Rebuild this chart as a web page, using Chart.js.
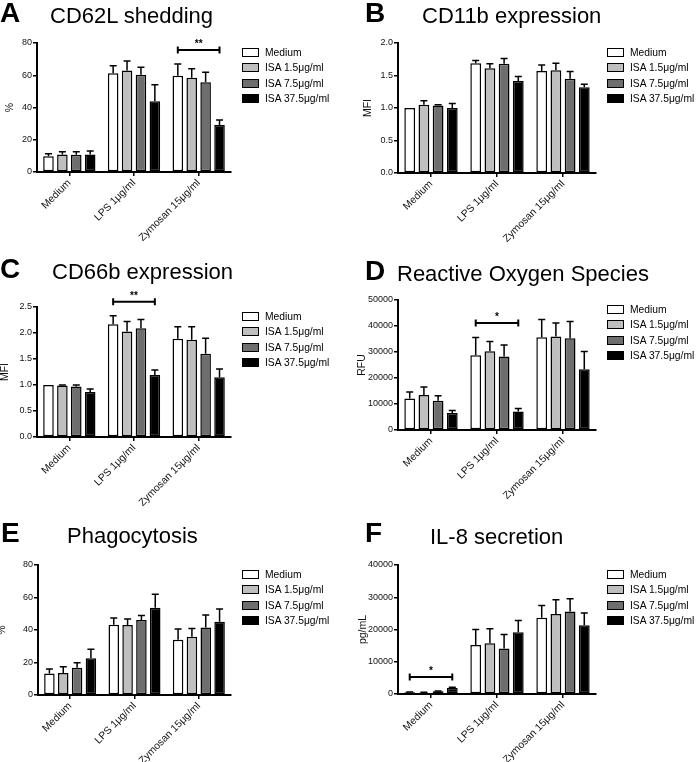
<!DOCTYPE html>
<html>
<head>
<meta charset="utf-8">
<script src="https://cdn.jsdelivr.net/npm/chart.js@4.4.1/dist/chart.umd.min.js"></script>
<style>
  body { margin: 0; background: #fff; font-family: "Liberation Sans", Arial, sans-serif; }
  #page { position: relative; width: 696px; height: 762px; overflow: hidden; }
  .panel { position: absolute; width: 348px; height: 254px; }
  .panel canvas { position: absolute; left: 0; top: 0; }
  .letter { position: absolute; font-weight: bold; font-size: 28px; line-height: 28px; color: #000; }
  .title { position: absolute; font-size: 22px; line-height: 22px; color: #000; white-space: nowrap; }
  .legend-row { position: absolute; font-size: 10.3px; line-height: 11px; color: #000; white-space: nowrap; }
  .legend-box { position: absolute; box-sizing: border-box; width: 17px; height: 9px; border: 1.5px solid #000; }
</style>
</head>
<body>
<div id="page"></div>
<script>
// ===== DATA =====
const categories = ["Medium", "LPS 1μg/ml", "Zymosan 15μg/ml"];
const seriesLabels = ["Medium", "ISA 1.5μg/ml", "ISA 7.5μg/ml", "ISA 37.5μg/ml"];

// one row per series, one value per category
const cd62lMean = [[9.8, 61.2, 59.7], [10.8, 63.0, 58.5], [10.7, 60.3, 55.6], [10.8, 43.8, 29.1]];
const cd62lErr  = [[1.5, 4.7, 7.3], [1.7, 5.8, 5.5], [1.8, 4.6, 6.2], [2.3, 10.3, 3.1]];

const cd11bMean = [[1.0, 1.69, 1.57], [1.05, 1.61, 1.58], [1.04, 1.68, 1.45], [1.0, 1.415, 1.32]];
const cd11bErr  = [[0, 0.04, 0.09], [0.06, 0.07, 0.11], [0.01, 0.08, 0.11], [0.07, 0.07, 0.045]];

const cd66bMean = [[1.0, 2.17, 1.89], [0.99, 2.03, 1.87], [0.97, 2.09, 1.60], [0.865, 1.19, 1.15]];
const cd66bErr  = [[0, 0.16, 0.23], [0.01, 0.19, 0.25], [0.03, 0.17, 0.30], [0.06, 0.10, 0.16]];

const rosMean = [[12150, 28770, 35680], [13430, 30300, 35930], [11250, 28260, 35300], [6520, 7160, 23400]];
const rosErr  = [[2430, 6780, 6780], [3070, 3720, 5250], [1920, 4480, 6390], [1020, 1150, 6780]];

const phagoMean = [[13.3, 43.3, 34.0], [13.5, 43.1, 35.9], [16.8, 46.2, 41.6], [22.6, 53.7, 45.1]];
const phagoErr  = [[2.7, 4.1, 6.6], [3.9, 3.7, 5.1], [3.1, 2.8, 7.6], [5.5, 8.3, 7.8]];

const il8Mean = [[520, 15230, 23630], [410, 15750, 24770], [830, 14090, 25600], [1870, 19170, 21350]];
const il8Err  = [[100, 4770, 3830], [100, 4450, 4450], [120, 4360, 3930], [250, 3630, 3730]];

// y axis ranges: [max, step, decimals]
const cd62lTicks = [80, 20, 0];
const cd11bTicks = [2.0, 0.5, 1];
const cd66bTicks = [2.5, 0.5, 1];
const rosTicks = [50000, 10000, 0];
const phagoTicks = [80, 20, 0];
const il8Ticks = [40000, 10000, 0];

// significance brackets: [category index, y value, label]
const cd62lSig = [2, 75.7, "**"];
const cd66bSig = [1, 2.6, "**"];
const rosSig = [1, 41150, "*"];
const il8Sig = [0, 5270, "*"];

// ===== STYLE =====
const barColors = ["#ffffff", "#bfbfbf", "#6e6e6e", "#000000"];
const FONT = '"Liberation Sans", Arial, sans-serif';
Chart.defaults.font.family = FONT;
Chart.defaults.color = "#111";

// ===== PANEL LAYOUT =====
const panels = [
  { x: 0, y: 0, letter: "A", title: "CD62L shedding", yTitle: "%", mean: cd62lMean, err: cd62lErr, ticks: cd62lTicks, sig: cd62lSig,
    area: { left: 37, top: 43, right: 231, bottom: 172 }, letterX: 0, letterBase: 23, titleX: 50, titleBase: 23.5, legX: 242, legY: 48, yPad: 3.5 },
  { x: 348, y: 0, letter: "B", title: "CD11b expression", yTitle: "MFI", mean: cd11bMean, err: cd11bErr, ticks: cd11bTicks, sig: null,
    area: { left: 50, top: 43, right: 248, bottom: 173 }, letterX: 17, letterBase: 23, titleX: 74, titleBase: 24, legX: 259, legY: 48, yPad: 14 },
  { x: 0, y: 254, letter: "C", title: "CD66b expression", yTitle: "MFI", mean: cd66bMean, err: cd66bErr, ticks: cd66bTicks, sig: cd66bSig,
    area: { left: 37, top: 53, right: 231, bottom: 183 }, letterX: 0, letterBase: 25, titleX: 52, titleBase: 26, legX: 242, legY: 58, yPad: -1.5 },
  { x: 348, y: 254, letter: "D", title: "Reactive Oxygen Species", yTitle: "RFU", mean: rosMean, err: rosErr, ticks: rosTicks, sig: rosSig,
    area: { left: 50, top: 46, right: 248, bottom: 176 }, letterX: 17, letterBase: 26.5, titleX: 49, titleBase: 28, legX: 259, legY: 51, yPad: 7.5 },
  { x: 0, y: 508, letter: "E", title: "Phagocytosis", yTitle: "%", mean: phagoMean, err: phagoErr, ticks: phagoTicks, sig: null,
    area: { left: 38, top: 57, right: 231, bottom: 187 }, letterX: 1, letterBase: 35, titleX: 67, titleBase: 36, legX: 242, legY: 62, yPad: -4 },
  { x: 348, y: 508, letter: "F", title: "IL-8 secretion", yTitle: "pg/mL", mean: il8Mean, err: il8Err, ticks: il8Ticks, sig: il8Sig,
    area: { left: 50, top: 57, right: 248, bottom: 186 }, letterX: 17, letterBase: 35, titleX: 82, titleBase: 36.5, legX: 259, legY: 62, yPad: 8.5 },
];

// ===== ERROR BARS + SIGNIFICANCE PLUGIN =====
const errorBarPlugin = {
  id: "errorBars",
  afterDatasetsDraw(chart, args, opts) {
    const ctx = chart.ctx;
    const yScale = chart.scales.y;
    ctx.save();
    ctx.strokeStyle = "#000";
    ctx.lineWidth = 1.5;
    chart.data.datasets.forEach((ds, i) => {
      const meta = chart.getDatasetMeta(i);
      meta.data.forEach((bar, j) => {
        const e = ds.errors[j];
        if (!e) return;
        const yTop = yScale.getPixelForValue(ds.data[j] + e);
        ctx.beginPath();
        ctx.moveTo(bar.x, bar.y);
        ctx.lineTo(bar.x, yTop);
        ctx.moveTo(bar.x - 3.5, yTop);
        ctx.lineTo(bar.x + 3.5, yTop);
        ctx.stroke();
      });
    });

    const sig = opts.sig;
    if (sig) {
      const [cat, val, label] = sig;
      const x0 = chart.getDatasetMeta(0).data[cat].x;
      const x1 = chart.getDatasetMeta(chart.data.datasets.length - 1).data[cat].x;
      const y = yScale.getPixelForValue(val);
      ctx.lineWidth = 2;
      ctx.beginPath();
      ctx.moveTo(x0, y);
      ctx.lineTo(x1, y);
      ctx.moveTo(x0, y - 3.5);
      ctx.lineTo(x0, y + 3.5);
      ctx.moveTo(x1, y - 3.5);
      ctx.lineTo(x1, y + 3.5);
      ctx.stroke();
      ctx.fillStyle = "#000";
      ctx.font = "bold 10px " + FONT;
      ctx.textAlign = "center";
      ctx.textBaseline = "bottom";
      ctx.fillText(label, (x0 + x1) / 2, y - 1);
    }
    ctx.restore();
  },
};

// ===== BUILD PANELS =====
const page = document.getElementById("page");
const W = 348, H = 254;

panels.forEach((p) => {
  const div = document.createElement("div");
  div.className = "panel";
  div.style.left = p.x + "px";
  div.style.top = p.y + "px";
  page.appendChild(div);

  const canvas = document.createElement("canvas");
  canvas.width = W;
  canvas.height = H;
  canvas.style.width = W + "px";
  canvas.style.height = H + "px";
  div.appendChild(canvas);

  // panel letter and title as real text
  const letter = document.createElement("div");
  letter.className = "letter";
  letter.textContent = p.letter;
  letter.style.left = p.letterX + "px";
  letter.style.top = (p.letterBase - 0.8465 * 28) + "px";
  div.appendChild(letter);

  const title = document.createElement("div");
  title.className = "title";
  title.textContent = p.title;
  title.style.left = p.titleX + "px";
  title.style.top = (p.titleBase - 0.8465 * 22) + "px";
  div.appendChild(title);

  // legend
  seriesLabels.forEach((lab, i) => {
    const top = p.legY + i * 15.3;
    const box = document.createElement("div");
    box.className = "legend-box";
    box.style.left = p.legX + "px";
    box.style.top = top + "px";
    box.style.background = barColors[i];
    div.appendChild(box);
    const txt = document.createElement("div");
    txt.className = "legend-row";
    txt.textContent = lab;
    txt.style.left = (p.legX + 23) + "px";
    txt.style.top = (top - 1) + "px";
    div.appendChild(txt);
  });

  const [yMax, yStep, yDec] = p.ticks;
  const a = p.area;

  new Chart(canvas.getContext("2d"), {
    type: "bar",
    data: {
      labels: categories,
      datasets: seriesLabels.map((lab, i) => ({
        label: lab,
        data: p.mean[i],
        errors: p.err[i],
        backgroundColor: barColors[i],
        borderColor: "#000",
        borderWidth: 1.5,
        borderSkipped: false,
        categoryPercentage: 0.86,
        barPercentage: 0.76,
      })),
    },
    options: {
      responsive: false,
      animation: false,
      devicePixelRatio: 1,
      layout: { padding: { left: 0, top: a.top, right: W - a.right, bottom: 0 } },
      scales: {
        x: {
          afterFit: (scale) => { scale.height = H - a.bottom; },
          grid: { display: true, drawOnChartArea: false, drawTicks: true, tickLength: 4, offset: false, color: "#000", lineWidth: 1.5 },
          border: { display: true, color: "#000", width: 2 },
          ticks: { autoSkip: false, minRotation: 45, maxRotation: 45, padding: 1, font: { size: 10.3 }, color: "#111" },
        },
        y: {
          min: 0,
          max: yMax,
          afterFit: (scale) => { scale.width = a.left; },
          grid: { display: true, drawOnChartArea: false, drawTicks: true, tickLength: 4, color: "#000", lineWidth: 1.5 },
          border: { display: true, color: "#000", width: 2 },
          ticks: { stepSize: yStep, padding: 1, font: { size: 9 }, color: "#111", callback: (v) => Number(v).toFixed(yDec) },
          title: { display: true, text: p.yTitle, font: { size: 10.5 }, color: "#111", padding: { top: p.yPad, bottom: 0 } },
        },
      },
      plugins: {
        legend: { display: false },
        tooltip: { enabled: false },
        errorBars: { sig: p.sig },
      },
    },
    plugins: [errorBarPlugin],
  });
});
</script>
</body>
</html>
